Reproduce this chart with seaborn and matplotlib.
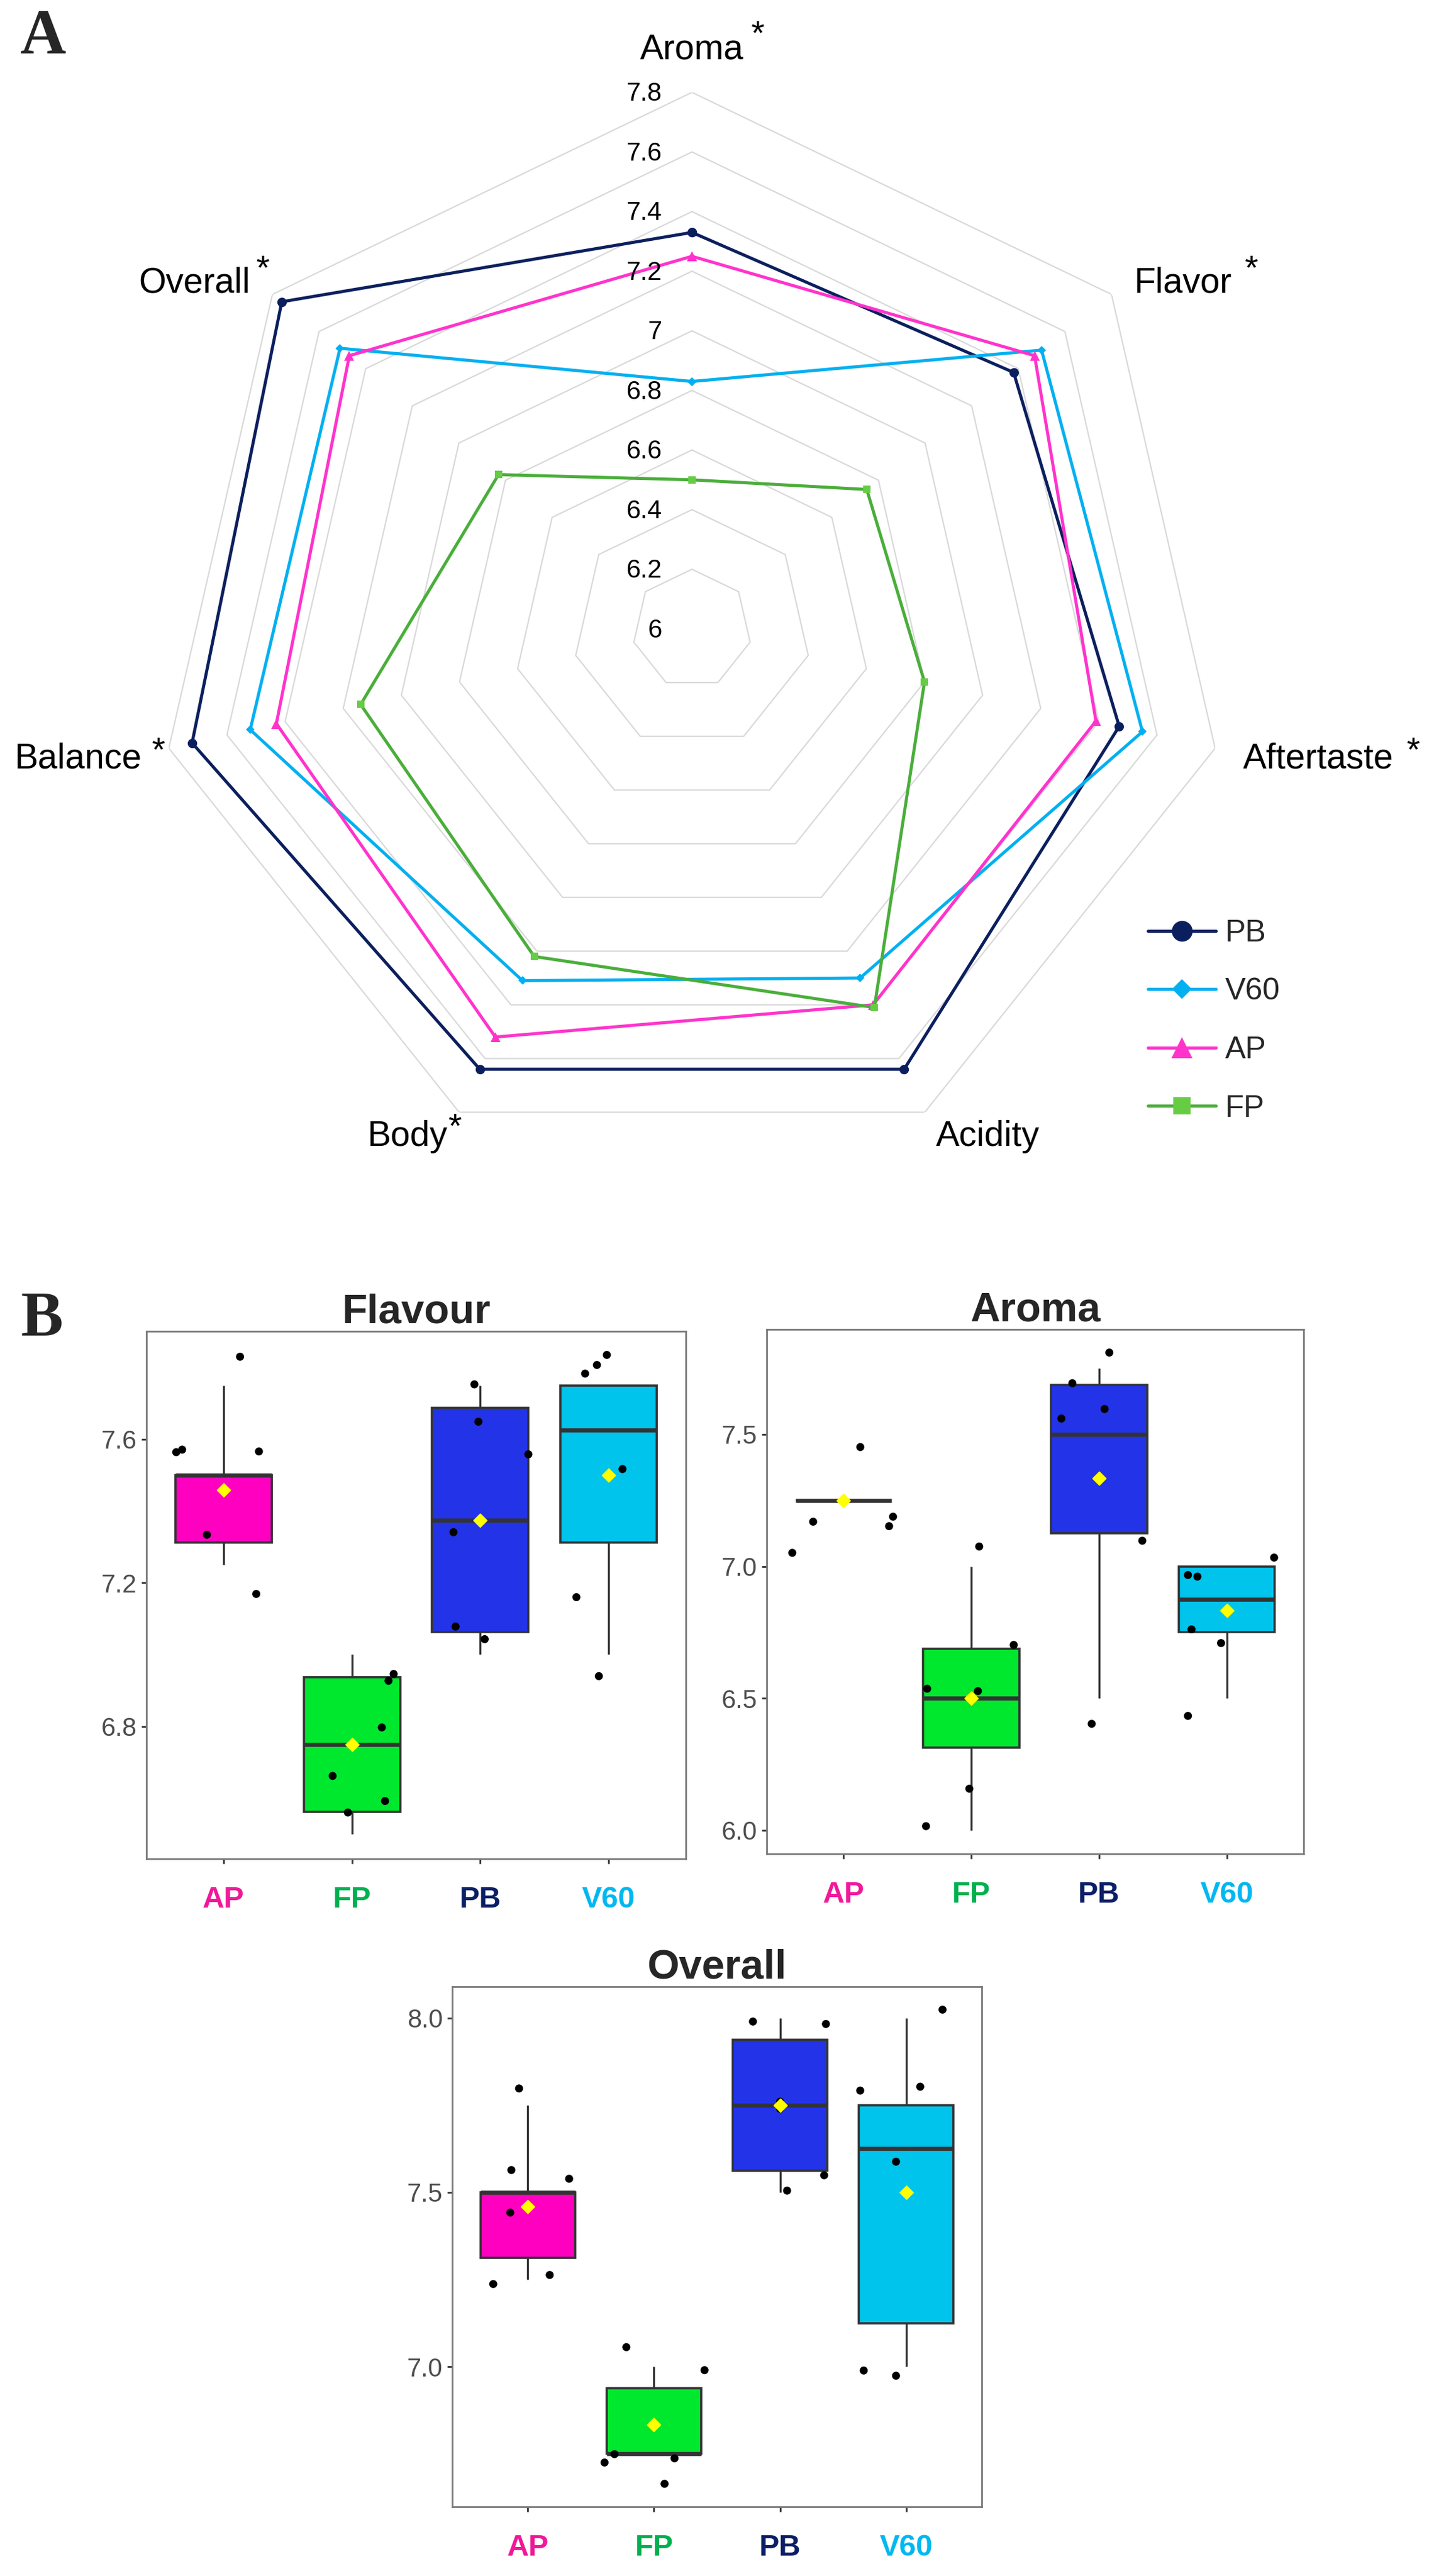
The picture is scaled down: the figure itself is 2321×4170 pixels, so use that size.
import numpy as np
import pandas as pd
import matplotlib
matplotlib.use("Agg")
import matplotlib.pyplot as plt
import seaborn as sns
from matplotlib.transforms import offset_copy

# ---------------- data : panel A (radar) ----------------
radar_axes = ["Aroma", "Flavor", "Aftertaste", "Acidity", "Body", "Balance", "Overall"]
radar_starred = [True, True, True, False, True, True, True]
radar_ticks = [6.0, 6.2, 6.4, 6.6, 6.8, 7.0, 7.2, 7.4, 7.6, 7.8]
radar_tick_labels = ["6", "6.2", "6.4", "6.6", "6.8", "7", "7.2", "7.4", "7.6", "7.8"]
radar_series = ["PB", "V60", "AP", "FP"]
radar_PB = [7.33, 7.38, 7.47, 7.64, 7.64, 7.72, 7.76]
radar_V60 = [6.83, 7.50, 7.55, 7.30, 7.31, 7.52, 7.51]
radar_AP = [7.25, 7.47, 7.39, 7.40, 7.52, 7.43, 7.47]
radar_FP = [6.50, 6.75, 6.80, 7.41, 7.22, 7.14, 6.83]

# ---------------- data : panel B (box plots) ----------------
methods = ["AP", "FP", "PB", "V60"]

flavour_scores = {"AP": [7.75, 7.5, 7.5, 7.5, 7.25, 7.25],
                  "FP": [7.0, 7.0, 6.75, 6.75, 6.5, 6.5],
                  "PB": [7.75, 7.75, 7.5, 7.25, 7.0, 7.0],
                  "V60": [7.75, 7.75, 7.75, 7.5, 7.25, 7.0]}
flavour_points = {"AP": [7.830, 7.564, 7.571, 7.566, 7.334, 7.169],
                  "FP": [6.946, 6.927, 6.797, 6.662, 6.592, 6.560],
                  "PB": [7.753, 7.649, 7.558, 7.341, 7.078, 7.043],
                  "V60": [7.835, 7.807, 7.783, 7.517, 7.160, 6.940]}
flavour_jitter = {"AP": [0.129, -0.368, -0.322, 0.276, -0.129, 0.255],
                  "FP": [0.325, 0.285, 0.233, -0.150, 0.258, -0.031],
                  "PB": [-0.046, -0.015, 0.374, -0.209, -0.193, 0.034],
                  "V60": [-0.015, -0.092, -0.184, 0.107, -0.252, -0.077]}

aroma_scores = {"AP": [7.5, 7.25, 7.25, 7.25, 7.25, 7.0],
                "FP": [7.0, 6.75, 6.5, 6.5, 6.25, 6.0],
                "PB": [7.75, 7.75, 7.5, 7.5, 7.0, 6.5],
                "V60": [7.0, 7.0, 7.0, 6.75, 6.75, 6.5]}
aroma_points = {"AP": [7.452, 7.169, 7.188, 7.152, 7.051, 7.250],
                "FP": [7.075, 6.702, 6.536, 6.527, 6.157, 6.015],
                "PB": [7.810, 7.694, 7.596, 7.560, 7.097, 6.403],
                "V60": [7.033, 6.967, 6.961, 6.761, 6.709, 6.433]}
aroma_jitter = {"AP": [0.132, -0.237, 0.388, 0.357, -0.400, 0.0],
                "FP": [0.062, 0.332, -0.345, 0.052, -0.015, -0.354],
                "PB": [0.080, -0.209, 0.043, -0.295, 0.338, -0.058],
                "V60": [0.369, -0.305, -0.231, -0.277, -0.046, -0.305]}

overall_scores = {"AP": [7.75, 7.5, 7.5, 7.5, 7.25, 7.25],
                  "FP": [7.0, 7.0, 6.75, 6.75, 6.75, 6.75],
                  "PB": [8.0, 8.0, 7.75, 7.75, 7.5, 7.5],
                  "V60": [8.0, 7.75, 7.75, 7.5, 7.0, 7.0]}
overall_points = {"AP": [7.798, 7.564, 7.539, 7.442, 7.263, 7.237],
                  "FP": [7.056, 6.990, 6.749, 6.737, 6.725, 6.664],
                  "PB": [7.990, 7.983, 7.760, 7.740, 7.549, 7.505],
                  "V60": [8.024, 7.803, 7.792, 7.588, 6.989, 6.974]}
overall_jitter = {"AP": [-0.070, -0.131, 0.327, -0.140, 0.173, -0.275],
                  "FP": [-0.219, 0.401, -0.313, 0.163, -0.392, 0.084],
                  "PB": [-0.215, 0.364, 0.0, 0.0, 0.350, 0.056],
                  "V60": [0.289, 0.112, -0.364, -0.080, -0.336, -0.080]}

flavour_yticks = [6.8, 7.2, 7.6]
aroma_yticks = [6.0, 6.5, 7.0, 7.5]
overall_yticks = [7.0, 7.5, 8.0]

# ---------------- styling ----------------
W, H, DPI = 2321, 4170, 100
sns.set_theme(style="white")
plt.rcParams["font.family"] = ["Liberation Sans", "DejaVu Sans"]

radar_colors = {"PB": "#0B1F5E", "V60": "#00B0F0", "AP": "#FF33CC", "FP": "#4AAE3A"}
radar_mfc = {"PB": "#0B1F5E", "V60": "#00B0F0", "AP": "#FF33CC", "FP": "#66CC44"}
radar_markers = {"PB": "o", "V60": "D", "AP": "^", "FP": "s"}
radar_msize = {"PB": 11, "V60": 7.5, "AP": 11, "FP": 9}

box_fill = {"AP": "#FF00C0", "FP": "#00E82E", "PB": "#2233E8", "V60": "#00C4EC"}
label_color = {"AP": "#F0189A", "FP": "#00B050", "PB": "#0A1F66", "V60": "#00B8F0"}

fig = plt.figure(figsize=(W / DPI, H / DPI), dpi=DPI)
fig.patch.set_facecolor("white")


def fx(px):
    return px / W


def fy(py):
    return 1 - py / H


# ---------------- Panel A: radar ----------------
cx, cy, R = 1120, 1018, 868.5
axr = fig.add_axes([fx(cx - R), fy(cy + R), 2 * R / W, 2 * R / H], projection="polar")
axr.set_theta_offset(np.pi / 2)
axr.set_theta_direction(-1)
n = len(radar_axes)
theta = np.linspace(0, 2 * np.pi, n, endpoint=False)
theta_closed = np.append(theta, 2 * np.pi)

for v in radar_ticks[1:]:
    axr.plot(theta_closed, [v] * (n + 1), color="#D9D9D9", lw=1.6, zorder=0)

series_vals = {"PB": radar_PB, "V60": radar_V60, "AP": radar_AP, "FP": radar_FP}
handles = []
for s in radar_series:
    vals = series_vals[s]
    df = pd.DataFrame({"theta": theta_closed, "score": vals + vals[:1]})
    sns.lineplot(data=df, x="theta", y="score", sort=False, estimator=None, ax=axr,
                 color=radar_colors[s], lw=3.6, marker=radar_markers[s],
                 markersize=radar_msize[s], markerfacecolor=radar_mfc[s],
                 markeredgecolor=radar_mfc[s], markeredgewidth=0, zorder=3)
    handles.append(axr.lines[-1])

axr.set_ylim(6.0, 7.8)
axr.set_xticks([])
axr.set_yticks([])
axr.grid(False)
axr.spines["polar"].set_visible(False)
axr.set_facecolor("none")
axr.set_xlabel("")
axr.set_ylabel("")

for v, lab in zip(radar_ticks, radar_tick_labels):
    axr.text(0, v, lab, transform=offset_copy(axr.transData, fig=fig, x=-48, y=-14, units="dots"),
             ha="right", va="baseline", fontsize=30, color="#000000")

# category labels (position in pixels, baseline)
cat_pos = {"Aroma": (1120, 95), "Flavor": (1914, 474), "Aftertaste": (2134, 1244),
           "Acidity": (1599, 1855), "Body": (659, 1855), "Balance": (126, 1244),
           "Overall": (315, 474)}
star_pos = {"Aroma": (1226, 71), "Flavor": (2025, 451), "Aftertaste": (2287, 1231),
            "Body": (736, 1840), "Balance": (256, 1231), "Overall": (425, 451)}
for name, starred in zip(radar_axes, radar_starred):
    x, y = cat_pos[name]
    fig.text(fx(x), fy(y), name, ha="center", va="baseline", fontsize=41, color="black")
    if starred:
        sx, sy = star_pos[name]
        fig.text(fx(sx), fy(sy), "*", ha="center", va="baseline", fontsize=40, color="black")

fig.legend(handles=handles, labels=radar_series, loc="upper left",
           bbox_to_anchor=(fx(1858), fy(1488)), frameon=False, fontsize=36,
           markerscale=2.2, handlelength=2.2, handletextpad=0.3, labelspacing=0.97,
           borderpad=0, borderaxespad=0)

fig.text(fx(33), fy(86), "A", ha="left", va="baseline", fontsize=74, fontweight="bold",
         family=["Liberation Serif", "DejaVu Serif"])
fig.text(fx(33), fy(2162), "B", ha="left", va="baseline", fontsize=74, fontweight="bold",
         family=["Liberation Serif", "DejaVu Serif"])


# ---------------- Panel B: box plots ----------------
def box_panel(rect_px, title, scores, points, jitter, ylim, yticks):
    l, t, r, b = rect_px
    ax = fig.add_axes([fx(l), fy(b), (r - l) / W, (b - t) / H])
    df = pd.DataFrame([(m, v) for m in methods for v in scores[m]], columns=["method", "score"])
    sns.boxplot(data=df, x="method", y="score", hue="method", order=methods, hue_order=methods,
                palette=box_fill, saturation=1, width=0.75, linecolor="#333333", linewidth=2.6,
                showfliers=False, showcaps=False, showmeans=True,
                meanprops=dict(marker="D", markerfacecolor="#FFFF00", markeredgecolor="#FFFF00",
                               markersize=11, zorder=6),
                medianprops=dict(linewidth=4.8, color="#333333"),
                whiskerprops=dict(linewidth=2.4, color="#333333"),
                legend=False, ax=ax)
    px, py = [], []
    for i, m in enumerate(methods):
        px += [i + d for d in jitter[m]]
        py += points[m]
    sns.scatterplot(x=px, y=py, color="black", s=88, edgecolor="none", linewidth=0,
                    zorder=5, ax=ax, legend=False)
    ax.set_xlim(-0.6, 3.6)
    ax.set_ylim(*ylim)
    ax.set_yticks(yticks)
    ax.set_yticklabels([f"{v:.1f}" for v in yticks])
    ax.set_xticks(range(len(methods)))
    ax.set_xticklabels(methods)
    ax.set_xlabel("")
    ax.set_ylabel("")
    for sp in ax.spines.values():
        sp.set_visible(True)
        sp.set_color("#7A7A7A")
        sp.set_linewidth(2.0)
    ax.tick_params(axis="both", which="major", left=True, bottom=True, length=6, width=2,
                   color="#333333", direction="out")
    ax.tick_params(axis="y", labelsize=30, labelcolor="#4D4D4D", pad=5)
    ax.tick_params(axis="x", labelsize=35, pad=26)
    for lab, m in zip(ax.get_xticklabels(), methods):
        lab.set_color(label_color[m])
        lab.set_fontweight("bold")
    ax.set_title(title, fontsize=48, fontweight="bold", pad=10)
    ax.set_facecolor("white")
    return ax


box_panel((237, 2155, 1110, 3009), "Flavour", flavour_scores, flavour_points, flavour_jitter,
          (6.431, 7.901), flavour_yticks)
box_panel((1241, 2152, 2110, 3001), "Aroma", aroma_scores, aroma_points, aroma_jitter,
          (5.910, 7.898), aroma_yticks)
box_panel((732, 3216, 1589, 4058), "Overall", overall_scores, overall_points, overall_jitter,
          (6.598, 8.090), overall_yticks)

fig.savefig("out.png", dpi=DPI, facecolor="white")
